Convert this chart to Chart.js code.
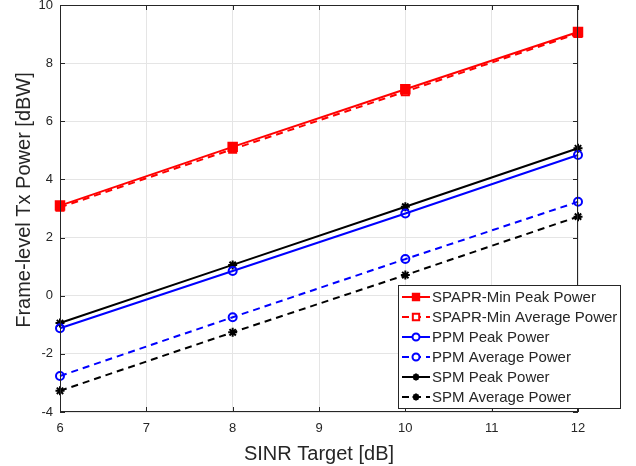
<!DOCTYPE html>
<html>
<head>
<meta charset="utf-8">
<script src="https://cdn.jsdelivr.net/npm/chart.js@4/dist/chart.umd.min.js"></script>
<style>
  html, body { margin: 0; padding: 0; background: #fff; }
  #wrap { width: 636px; height: 466px; }
</style>
</head>
<body>
<div id="wrap"><canvas id="chart" width="636" height="466"></canvas></div>
<script>
// SINR target [dB]
const sinr = [6, 8, 10, 12];
// frame-level Tx power [dBW]
const spaprPeak = [3.1, 5.12, 7.1, 9.07];
const spaprAvg = [3.04, 5.04, 7.02, 9.02];
const ppmPeak = [-1.12, 0.85, 2.83, 4.84];
const ppmAvg = [-2.76, -0.74, 1.26, 3.23];
const spmPeak = [-0.94, 1.06, 3.06, 5.07];
const spmAvg = [-3.27, -1.26, 0.71, 2.72];

const xTicks = [6, 7, 8, 9, 10, 11, 12];
const yTicks = [-4, -2, 0, 2, 4, 6, 8, 10];
const yTitle = 'Frame-level Tx Power [dBW]';

const FONT = "'Liberation Sans', Arial, sans-serif";

function pts(ys){
    return sinr.map((x,i)=>({x:x, y:ys[i]}));
}

function series(label, ys, color, dashed, style, filled, radius){
    return {
        label: label,
        data: pts(ys),
        borderColor: color,
        backgroundColor: filled ? color : '#fff',
        borderWidth: 2,
        borderDash: dashed ? [7, 5] : [],
        pointStyle: style,
        pointRadius: radius,
        pointBorderWidth: 2,
        pointBorderColor: color,
        pointBackgroundColor: filled ? color : 'rgba(0,0,0,0)',
        tension: 0,
        clip: false
    };
}

const datasets = [
    series('SPAPR-Min Peak Power', spaprPeak, '#ff0000', false, 'rect', true, 6),
    series('SPAPR-Min Average Power', spaprAvg, '#ff0000', true, 'rect', false, 5),
    series('PPM Peak Power', ppmPeak, '#0000ff', false, 'circle', false, 4),
    series('PPM Average Power', ppmAvg, '#0000ff', true, 'circle', false, 4),
    series('SPM Peak Power', spmPeak, '#000000', false, 'star', false, 4.5),
    series('SPM Average Power', spmAvg, '#000000', true, 'star', false, 4.5)
];

// box, inward ticks, y title and the in-plot legend
const frame = {
    id: 'frame',
    afterDatasetsDraw(chart){
        const ctx = chart.ctx;
        const a = chart.chartArea;
        const xs = chart.scales.x, ys = chart.scales.y;
        ctx.save();
        ctx.strokeStyle = '#262626';
        ctx.lineWidth = 1;
        ctx.strokeRect(a.left + 0.5, a.top + 0.5, a.right - a.left - 1, a.bottom - a.top - 1);
        ctx.beginPath();
        xTicks.forEach(v=>{
            const px = Math.round(xs.getPixelForValue(v)) + 0.5;
            ctx.moveTo(px, a.bottom); ctx.lineTo(px, a.bottom - 5);
            ctx.moveTo(px, a.top); ctx.lineTo(px, a.top + 5);
        });
        yTicks.forEach(v=>{
            const py = Math.round(ys.getPixelForValue(v)) + 0.5;
            ctx.moveTo(a.left, py); ctx.lineTo(a.left + 5, py);
            ctx.moveTo(a.right, py); ctx.lineTo(a.right - 5, py);
        });
        ctx.stroke();

        // y title
        ctx.save();
        ctx.translate(24, 200);
        ctx.rotate(-Math.PI / 2);
        ctx.font = '20px ' + FONT;
        ctx.fillStyle = '#262626';
        ctx.textAlign = 'center';
        ctx.textBaseline = 'middle';
        ctx.fillText(yTitle, 0, 0);
        ctx.restore();

        // legend
        const lx = 398, ly = 285, lw = 222, lh = 123, row = 20;
        ctx.fillStyle = '#fff';
        ctx.fillRect(lx, ly, lw, lh);
        ctx.strokeStyle = '#262626';
        ctx.strokeRect(lx + 0.5, ly + 0.5, lw, lh);
        ctx.font = '15px ' + FONT;
        ctx.textBaseline = 'middle';
        chart.data.datasets.forEach((ds, i)=>{
            const cy = ly + 12 + i * row;
            ctx.strokeStyle = ds.borderColor;
            ctx.lineWidth = 2;
            ctx.setLineDash(ds.borderDash);
            ctx.beginPath();
            ctx.moveTo(lx + 4, cy); ctx.lineTo(lx + 32, cy);
            ctx.stroke();
            ctx.setLineDash([]);
            ctx.fillStyle = ds.backgroundColor;
            ctx.strokeStyle = ds.borderColor;
            Chart.helpers.drawPoint(ctx, {
                pointStyle: ds.pointStyle,
                radius: ds.pointStyle === 'rect' ? 4.5 : 3.5,
                borderWidth: 2,
                rotation: 0
            }, lx + 18, cy);
            ctx.fillStyle = '#262626';
            ctx.fillText(ds.label, lx + 34, cy + 1);
        });
        ctx.restore();
    }
};

new Chart(document.getElementById('chart'), {
    type: 'line',
    data: { datasets: datasets },
    options: {
        responsive: false,
        animation: false,
        layout: { autoPadding: false, padding: { top: 5, right: 58, left: 0, bottom: 0 } },
        plugins: { legend: { display: false }, tooltip: { enabled: false } },
        scales: {
            x: {
                type: 'linear',
                min: 6, max: 12,
                afterBuildTicks: s => { s.ticks = xTicks.map(v=>({value:v})); },
                afterFit: s => { s.height = 54; s.paddingLeft = 0; s.paddingRight = 0; },
                grid: { color: '#e5e5e5', drawTicks: false },
                border: { display: false },
                ticks: { color: '#262626', font: { family: FONT, size: 13 }, padding: 9, maxRotation: 0 },
                title: { display: true, text: 'SINR Target [dB]', color: '#262626',
                         font: { family: FONT, size: 20 }, padding: { top: 3, bottom: 0 } }
            },
            y: {
                min: -4, max: 10,
                afterBuildTicks: s => { s.ticks = yTicks.map(v=>({value:v})); },
                afterFit: s => { s.width = 60; s.paddingTop = 0; s.paddingBottom = 0; },
                grid: { color: '#e5e5e5', drawTicks: false },
                border: { display: false },
                ticks: { color: '#262626', font: { family: FONT, size: 13 }, padding: 7 },
                title: { display: false }
            }
        }
    },
    plugins: [frame]
});
</script>
</body>
</html>
